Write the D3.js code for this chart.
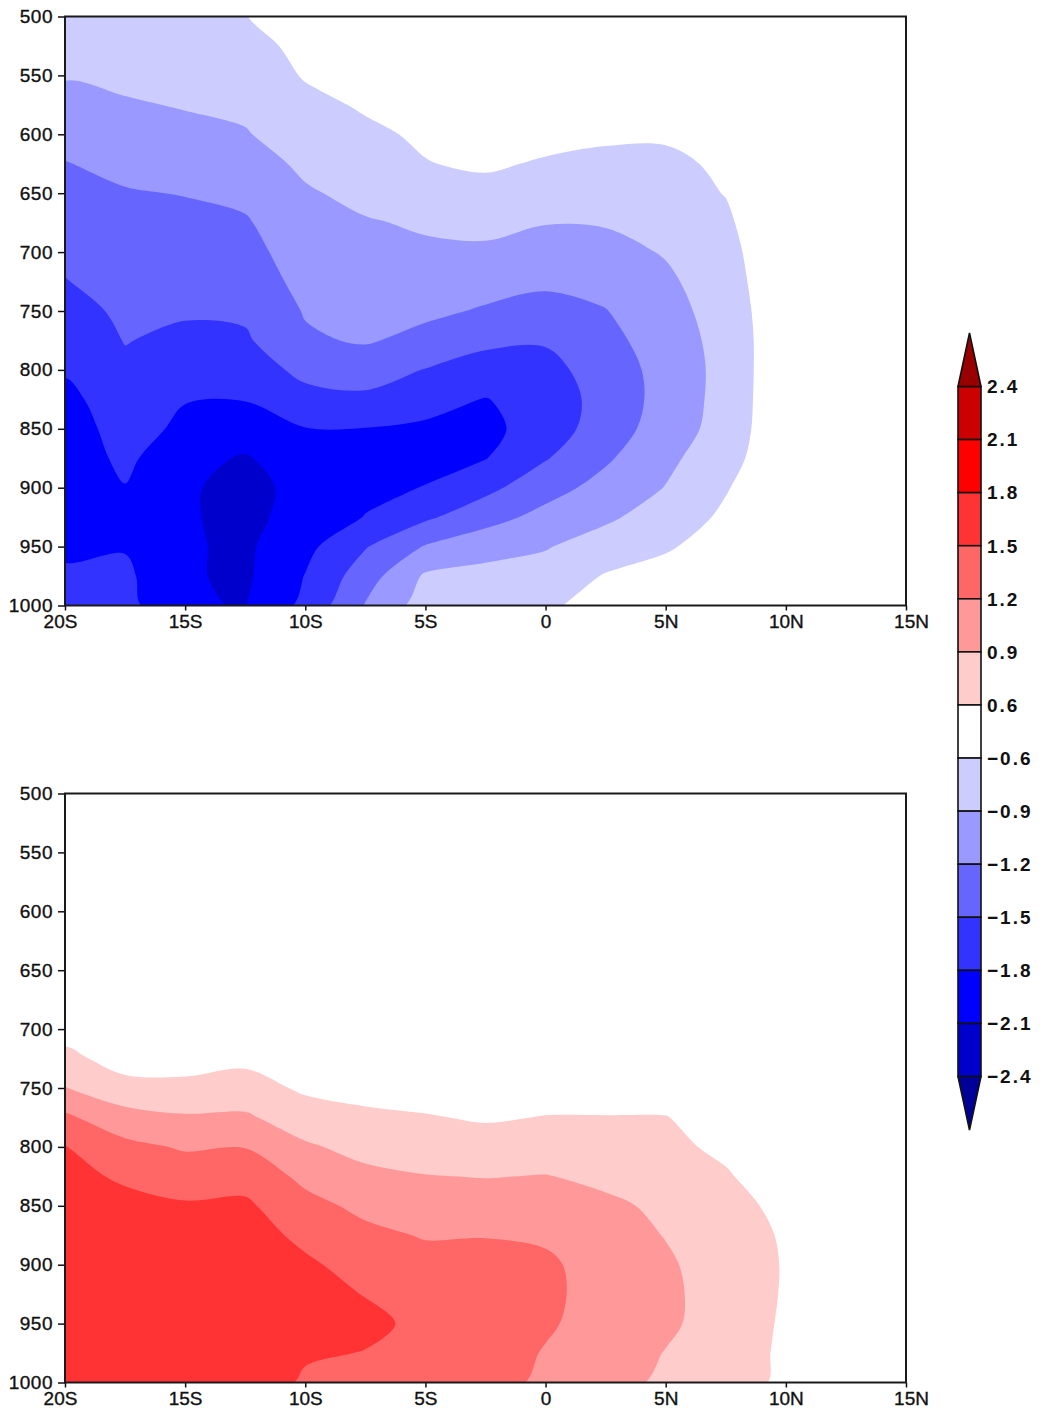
<!DOCTYPE html>
<html>
<head>
<meta charset="utf-8">
<script src="https://cdn.jsdelivr.net/npm/d3@7"></script>
<style>
  body { margin: 0; background: #fff; }
  svg text { font-family: "Liberation Sans", Arial, Helvetica, sans-serif; fill: #111; }
</style>
</head>
<body>
<svg id="chart" width="1045" height="1416"></svg>
<script>
// Grid: latitude (deg, negative = south) by pressure level (hPa)
const latitudes = [-20, -17.5, -15, -12.5, -10, -7.5, -5, -2.5, 0, 2.5, 5, 7.5, 10, 12.5, 15];
const pressureLevels = [500, 525, 550, 575, 600, 625, 650, 675, 700, 725, 750,
                        775, 800, 825, 850, 875, 900, 925, 950, 975, 1000];

// Upper panel anomaly, one row per pressure level (500 -> 1000 hPa)
const upperAnomaly = [
  [-0.67,-0.64,-0.63,-0.61,-0.40,-0.30,-0.25,-0.20,-0.20,-0.25,-0.30,-0.25,-0.15,-0.12,-0.06],
  [-0.78,-0.74,-0.70,-0.69,-0.53,-0.39,-0.35,-0.28,-0.28,-0.33,-0.37,-0.30,-0.18,-0.14,-0.07],
  [-0.88,-0.83,-0.78,-0.76,-0.58,-0.48,-0.42,-0.36,-0.36,-0.41,-0.44,-0.35,-0.20,-0.15,-0.07],
  [-0.99,-0.93,-0.88,-0.84,-0.67,-0.57,-0.50,-0.44,-0.44,-0.49,-0.51,-0.40,-0.22,-0.16,-0.08],
  [-1.10,-1.03,-0.98,-0.92,-0.75,-0.65,-0.56,-0.50,-0.51,-0.56,-0.57,-0.47,-0.25,-0.17,-0.08],
  [-1.21,-1.13,-1.09,-1.02,-0.85,-0.75,-0.61,-0.56,-0.63,-0.66,-0.65,-0.56,-0.28,-0.18,-0.09],
  [-1.28,-1.22,-1.19,-1.13,-0.93,-0.83,-0.73,-0.69,-0.76,-0.77,-0.72,-0.59,-0.30,-0.19,-0.09],
  [-1.36,-1.27,-1.27,-1.23,-0.99,-0.92,-0.87,-0.82,-0.89,-0.88,-0.80,-0.65,-0.32,-0.20,-0.10],
  [-1.43,-1.33,-1.33,-1.30,-1.05,-0.99,-0.94,-0.95,-1.02,-0.99,-0.88,-0.70,-0.34,-0.20,-0.10],
  [-1.51,-1.39,-1.41,-1.37,-1.11,-1.05,-1.04,-1.09,-1.15,-1.10,-0.95,-0.74,-0.35,-0.21,-0.10],
  [-1.60,-1.45,-1.47,-1.45,-1.18,-1.12,-1.14,-1.23,-1.30,-1.21,-1.00,-0.78,-0.36,-0.21,-0.10],
  [-1.69,-1.49,-1.56,-1.54,-1.24,-1.17,-1.29,-1.44,-1.47,-1.29,-1.05,-0.80,-0.37,-0.21,-0.10],
  [-1.77,-1.55,-1.66,-1.66,-1.42,-1.39,-1.51,-1.62,-1.60,-1.35,-1.10,-0.80,-0.37,-0.21,-0.10],
  [-1.88,-1.63,-1.79,-1.79,-1.60,-1.55,-1.71,-1.81,-1.68,-1.38,-1.10,-0.79,-0.37,-0.21,-0.10],
  [-1.92,-1.70,-1.85,-1.93,-1.81,-1.81,-1.84,-1.87,-1.67,-1.34,-1.07,-0.77,-0.37,-0.21,-0.10],
  [-1.96,-1.74,-2.00,-2.13,-1.90,-1.88,-1.88,-1.81,-1.52,-1.24,-0.97,-0.71,-0.37,-0.20,-0.10],
  [-1.97,-1.81,-2.06,-2.20,-2.00,-1.87,-1.79,-1.58,-1.31,-1.10,-0.89,-0.62,-0.36,-0.20,-0.10],
  [-1.93,-1.85,-2.07,-2.18,-1.98,-1.79,-1.55,-1.31,-1.11,-0.95,-0.76,-0.55,-0.33,-0.19,-0.09],
  [-1.85,-1.82,-2.07,-2.15,-1.88,-1.52,-1.18,-1.02,-0.92,-0.76,-0.63,-0.48,-0.30,-0.17,-0.09],
  [-1.76,-1.74,-2.07,-2.15,-1.79,-1.34,-0.86,-0.80,-0.78,-0.58,-0.50,-0.40,-0.26,-0.15,-0.08],
  [-1.70,-1.70,-2.08,-2.11,-1.72,-1.18,-0.76,-0.68,-0.68,-0.41,-0.38,-0.33,-0.22,-0.13,-0.07]
];

// Lower panel anomaly, same grid
const lowerAnomaly = [
  [0.08,0.08,0.07,0.07,0.06,0.06,0.05,0.05,0.05,0.05,0.05,0.05,0.05,0.03,0.02],
  [0.10,0.10,0.09,0.09,0.08,0.07,0.06,0.06,0.06,0.06,0.06,0.06,0.06,0.04,0.03],
  [0.13,0.12,0.11,0.11,0.10,0.09,0.08,0.08,0.08,0.08,0.08,0.07,0.07,0.05,0.03],
  [0.16,0.15,0.14,0.14,0.12,0.11,0.10,0.10,0.10,0.10,0.10,0.09,0.08,0.05,0.04],
  [0.20,0.19,0.18,0.18,0.15,0.13,0.12,0.12,0.12,0.12,0.12,0.11,0.09,0.06,0.04],
  [0.25,0.23,0.22,0.23,0.18,0.16,0.15,0.15,0.15,0.15,0.15,0.13,0.10,0.07,0.05],
  [0.30,0.28,0.28,0.29,0.22,0.20,0.19,0.19,0.19,0.19,0.19,0.16,0.12,0.08,0.05],
  [0.38,0.34,0.34,0.35,0.27,0.25,0.24,0.24,0.24,0.24,0.24,0.20,0.14,0.09,0.06],
  [0.47,0.40,0.40,0.42,0.33,0.31,0.30,0.30,0.30,0.31,0.31,0.26,0.17,0.10,0.07],
  [0.69,0.46,0.46,0.53,0.42,0.40,0.38,0.37,0.38,0.40,0.38,0.33,0.22,0.12,0.08],
  [0.91,0.71,0.69,0.73,0.55,0.50,0.47,0.45,0.47,0.48,0.45,0.40,0.28,0.15,0.10],
  [1.25,1.01,0.93,0.94,0.75,0.66,0.62,0.57,0.61,0.61,0.61,0.46,0.33,0.18,0.11],
  [1.51,1.28,1.17,1.19,0.94,0.81,0.77,0.73,0.75,0.72,0.67,0.54,0.36,0.21,0.12],
  [1.58,1.46,1.36,1.39,1.13,0.97,0.91,0.89,0.91,0.84,0.75,0.63,0.42,0.25,0.14],
  [1.63,1.58,1.53,1.55,1.29,1.13,1.04,1.04,1.03,0.95,0.85,0.69,0.53,0.30,0.16],
  [1.66,1.64,1.62,1.63,1.43,1.27,1.18,1.19,1.15,1.02,0.89,0.73,0.57,0.33,0.18],
  [1.68,1.67,1.67,1.68,1.55,1.38,1.30,1.29,1.26,1.05,0.94,0.76,0.58,0.35,0.19],
  [1.70,1.69,1.70,1.70,1.60,1.49,1.38,1.34,1.27,1.07,0.96,0.77,0.575,0.36,0.20],
  [1.71,1.70,1.72,1.72,1.60,1.57,1.43,1.36,1.24,1.07,0.95,0.77,0.56,0.36,0.20],
  [1.71,1.70,1.72,1.72,1.54,1.49,1.42,1.35,1.18,1.05,0.89,0.76,0.545,0.35,0.20],
  [1.70,1.70,1.72,1.72,1.45,1.38,1.38,1.32,1.14,1.02,0.84,0.75,0.535,0.34,0.19]
];

// Axis ticks
const latTicks = [-20, -15, -10, -5, 0, 5, 10, 15];
const latTickLabels = ["20S", "15S", "10S", "5S", "0", "5N", "10N", "15N"];
const pressureTicks = [500, 550, 600, 650, 700, 750, 800, 850, 900, 950, 1000];

// Shading levels and the colour of each band (lowest band first)
const contourLevels = [-2.4, -2.1, -1.8, -1.5, -1.2, -0.9, -0.6, 0.6, 0.9, 1.2, 1.5, 1.8, 2.1, 2.4];
const bandColors = ["#000099", "#0000CC", "#0000FF", "#3333FF", "#6666FF", "#9999FF", "#CCCCFF",
                    "#FFFFFF",
                    "#FFCCCC", "#FF9999", "#FF6666", "#FF3333", "#FF0000", "#CC0000", "#990000"];

const svg = d3.select("#chart");
svg.append("rect").attr("width", 1045).attr("height", 1416).attr("fill", "#fff");

const plotLeft = 65, plotRight = 906, plotHeight = 589;
const panelTops = [16.5, 793.5];
const fontSize = 19;

const xScale = d3.scaleLinear().domain([-20, 15]).range([plotLeft, plotRight]);
const ringLine = d3.line().curve(d3.curveCatmullRomClosed.alpha(0.5));

function drawPanel(field, top, id) {
  const yScale = d3.scaleLinear().domain([500, 1000]).range([top, top + plotHeight]);
  const g = svg.append("g");

  g.append("clipPath").attr("id", id)
    .append("rect").attr("x", plotLeft).attr("y", top)
    .attr("width", plotRight - plotLeft).attr("height", plotHeight);

  const nx = latitudes.length, ny = pressureLevels.length;
  const dLat = latitudes[1] - latitudes[0];
  const dP = pressureLevels[1] - pressureLevels[0];
  // grid coordinates from d3.contours put node i at i + 0.5
  const gx = x => xScale(latitudes[0] + (x - 0.5) * dLat);
  const gy = y => yScale(pressureLevels[0] + (y - 0.5) * dP);

  const contourPath = geom => geom.coordinates.map(poly =>
    poly.map(ring => ringLine(ring.slice(0, -1).map(([x, y]) => [gx(x), gy(y)]))).join("")
  ).join("");

  const values = field.flat();
  const posLevels = contourLevels.filter(v => v > 0);
  const negLevels = contourLevels.filter(v => v < 0).map(v => -v).sort(d3.ascending);

  const fills = g.append("g").attr("clip-path", `url(#${id})`);

  // negative anomalies: region where value <= -t
  const negContours = d3.contours().size([nx, ny]).thresholds(negLevels)(values.map(v => -v));
  fills.selectAll("path.neg").data(negContours).join("path")
    .attr("class", "neg")
    .attr("d", contourPath)
    .attr("fill-rule", "evenodd")
    .attr("fill", d => bandColors[contourLevels.indexOf(-d.value)]);

  // positive anomalies: region where value >= t
  const posContours = d3.contours().size([nx, ny]).thresholds(posLevels)(values);
  fills.selectAll("path.pos").data(posContours).join("path")
    .attr("class", "pos")
    .attr("d", contourPath)
    .attr("fill-rule", "evenodd")
    .attr("fill", d => bandColors[contourLevels.indexOf(d.value) + 1]);

  // axes
  const yAxis = d3.axisLeft(yScale).tickValues(pressureTicks)
    .tickFormat(d3.format("d")).tickSize(7).tickPadding(5);
  const ya = g.append("g").attr("transform", `translate(${plotLeft},0)`).call(yAxis);
  ya.select(".domain").remove();
  ya.selectAll("line").attr("stroke", "#111").attr("stroke-width", 1.5);
  ya.selectAll("text").attr("font-size", fontSize).attr("fill", "#111")
    .attr("letter-spacing", 0.5).attr("stroke", "#111").attr("stroke-width", 0.35);

  const xAxis = d3.axisBottom(xScale).tickValues(latTicks)
    .tickFormat((d, i) => latTickLabels[i]).tickSize(5).tickPadding(4);
  const xa = g.append("g").attr("transform", `translate(0,${top + plotHeight})`).call(xAxis);
  xa.select(".domain").remove();
  xa.selectAll("line").attr("stroke", "#111").attr("stroke-width", 1.5);
  xa.selectAll("text").attr("font-size", fontSize).attr("fill", "#111")
    .attr("stroke", "#111").attr("stroke-width", 0.35)
    .attr("dx", (d, i) => i === 0 ? -5 : (i === latTicks.length - 1 ? 5 : 0));

  // frame
  g.append("rect")
    .attr("x", plotLeft).attr("y", top)
    .attr("width", plotRight - plotLeft).attr("height", plotHeight)
    .attr("fill", "none").attr("stroke", "#1a1a1a").attr("stroke-width", 2);
}

drawPanel(upperAnomaly, panelTops[0], "clip-upper");
drawPanel(lowerAnomaly, panelTops[1], "clip-lower");

// Colour bar: one box per band between adjacent levels, triangles for the open ends
const cbX = 958, cbW = 23;
const levelsTopDown = contourLevels.slice().reverse();
const cbScale = d3.scalePoint().domain(d3.range(levelsTopDown.length)).range([386.5, 1076.5]);
const step = cbScale(1) - cbScale(0);
const cb = svg.append("g");

const boxBands = bandColors.slice(1, -1).reverse(); // from just below top level downward
cb.selectAll("rect.band").data(boxBands).join("rect")
  .attr("class", "band")
  .attr("x", cbX).attr("y", (d, i) => cbScale(i))
  .attr("width", cbW).attr("height", step)
  .attr("fill", d => d).attr("stroke", "#111").attr("stroke-width", 1.6);

const tri = 53.5;
cb.append("path")
  .attr("d", `M${cbX},${cbScale(0)} L${cbX + cbW},${cbScale(0)} L${cbX + cbW / 2},${cbScale(0) - tri} Z`)
  .attr("fill", bandColors[bandColors.length - 1]).attr("stroke", "#111").attr("stroke-width", 1.6);
const last = cbScale(levelsTopDown.length - 1);
cb.append("path")
  .attr("d", `M${cbX},${last} L${cbX + cbW},${last} L${cbX + cbW / 2},${last + tri} Z`)
  .attr("fill", bandColors[0]).attr("stroke", "#111").attr("stroke-width", 1.6);

const fmt = d3.format(".1f");
cb.selectAll("text.lev").data(levelsTopDown).join("text")
  .attr("class", "lev")
  .attr("x", 987).attr("y", (d, i) => cbScale(i))
  .attr("dy", "0.36em")
  .attr("font-size", fontSize)
  .attr("font-weight", "bold")
  .attr("letter-spacing", 2)
  .text(d => fmt(d));
</script>
</body>
</html>
